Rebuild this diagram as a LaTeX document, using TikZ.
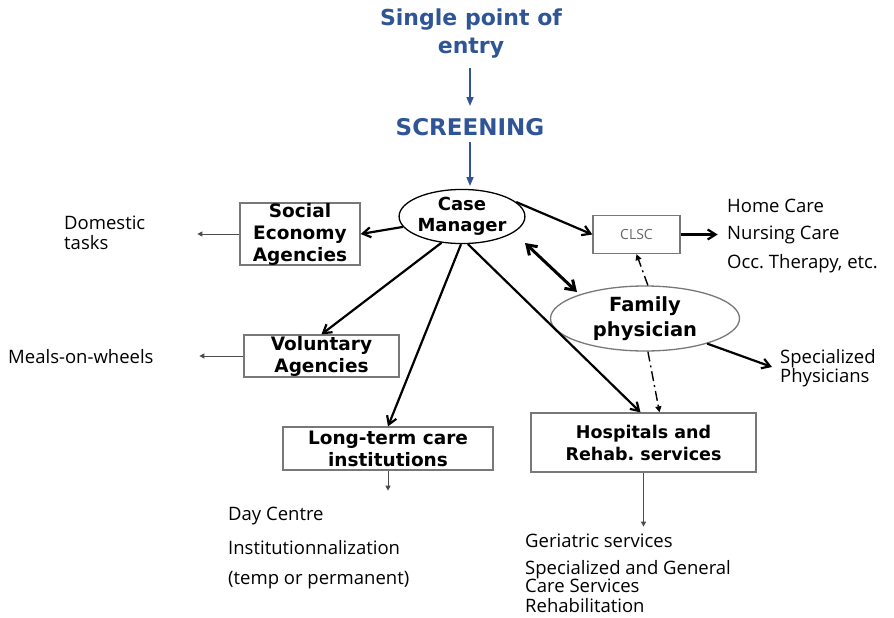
\documentclass[tikz,border=0pt]{standalone}
\usepackage{fontspec}
\setmainfont{DejaVu Sans}
\newfontfamily\regfont{Open Sans}
\usetikzlibrary{shapes.geometric,arrows.meta}
\definecolor{titleblue}{RGB}{47,85,151}
\definecolor{boxgray}{RGB}{120,120,120}
\frenchspacing
\begin{document}
\begin{tikzpicture}[x=1pt,y=-1pt,
  boxnode/.style={draw=boxgray, line width=1.3pt, align=center, inner sep=0pt,
     font=\bfseries\fontsize{18.5}{22}\selectfont},
  ellnode/.style={ellipse, draw, line width=1.3pt, align=center, inner sep=0pt,
     font=\bfseries\fontsize{18}{21}\selectfont},
  titletext/.style={text=titleblue, align=center, font=\bfseries\fontsize{22}{28}\selectfont},
  regtext/.style={anchor=west, align=left, inner sep=0pt, font=\regfont\fontsize{18.5}{19}\selectfont},
  bluearrow/.style={draw=titleblue, line width=1.6pt, -{Triangle[length=9pt,width=7pt]}},
  thickarrow/.style={draw=black, line width=2.2pt, -{Straight Barb[length=8pt,width=10pt]}},
  thinarrow/.style={draw=black!70, line width=1pt, -{Triangle[length=5pt,width=5pt]}},
  dasharrow/.style={draw=black, line width=1.4pt, dash pattern=on 10pt off 4pt on 2pt off 4pt, -{Triangle[length=6pt,width=6pt]}}
]
\useasboundingbox (0,0) rectangle (894,618);

% title
\node[titletext] (spe) at (471,34) {Single point of\\entry};
\node[titletext, font=\bfseries\fontsize{23}{26}\selectfont] (scr) at (470,127) {SCREENING};
\coordinate (a1) at (470,68);
\coordinate (a2) at (470,106);
\coordinate (b1) at (470,142);
\coordinate (b2) at (470,186);
\draw[bluearrow] (a1) -- (a2);
\draw[bluearrow] (b1) -- (b2);

% nodes
\node[ellnode, minimum width=124pt, minimum height=53pt] (cm) at (462,216.5) {Case\\Manager};
\node[boxnode, minimum width=120pt, minimum height=62pt] (soc) at (300,234) {Social\\Economy\\Agencies};
\node[boxnode, minimum width=87pt, minimum height=38pt, font=\regfont\fontsize{14}{15}\selectfont, text=black!60] (clsc) at (636.5,234.5) {CLSC};
\node[ellnode, draw=boxgray, minimum width=189pt, minimum height=65pt, font=\bfseries\fontsize{19.5}{25}\selectfont] (fp) at (645,318.5) {Family\\physician};
\node[boxnode, minimum width=155pt, minimum height=42pt] (vol) at (321.5,356) {Voluntary\\Agencies};
\node[boxnode, minimum width=210pt, minimum height=43pt] (ltc) at (388,448.5) {Long-term care\\institutions};
\node[boxnode, minimum width=225pt, minimum height=59pt, font=\bfseries\fontsize{17.5}{22}\selectfont] (hos) at (643.5,442.5) {Hospitals and\\Rehab. services};

% texts
\node[regtext] (dom) at (64,233) {Domestic\\[1pt]tasks};
\node[regtext] (meals) at (8,357) {Meals-on-wheels};
\node[regtext] (home) at (727,206) {Home Care};
\node[regtext] (nurs) at (727,235) {Nursing Care};
\node[regtext] (occ) at (727,264) {Occ. Therapy, etc.};
\node[regtext] (spec) at (780,368) {Specialized\\[0pt]Physicians};
\node[regtext] (day) at (228,516) {Day Centre};
\node[regtext] (inst) at (228,548) {Institutionnalization};
\node[regtext] (temp) at (228,580) {(temp or permanent)};
\node[regtext] (ger) at (525,541) {Geriatric services};
\node[regtext] (sag) at (525,577) {Specialized and General\\[-1pt]Care Services};
\node[regtext] (reh) at (525,606) {Rehabilitation};

% connectors from case manager
\coordinate (dA) at (525,243);
\coordinate (dB) at (577,292);
\coordinate (sp) at (772,367);
\draw[thickarrow] (cm.190) -- (soc.east);
\draw[thickarrow] (cm.232) -- (vol.north);
\draw[thickarrow] (cm.268) -- (ltc.north);
\draw[thickarrow] (cm.282) -- ([xshift=-3pt]hos.north);
\draw[thickarrow] (cm.15) -- (clsc.west);
\draw[thickarrow, line width=3pt, {Straight Barb[length=9pt,width=12pt]}-{Straight Barb[length=9pt,width=12pt]}] (dA) -- (dB);
\draw[thickarrow] (clsc.east) -- ([xshift=37pt]clsc.east);
\draw[thickarrow] (fp.-22) -- (sp);

% dash-dot links
\draw[dasharrow] (fp.85) -- (clsc.south);
\draw[dasharrow] (fp.-85) -- ([xshift=16pt]hos.north);

% thin arrows
\draw[thinarrow] (soc.west) -- ([xshift=-42pt]soc.west);
\draw[thinarrow] (vol.west) -- ([xshift=-44pt]vol.west);
\draw[thinarrow] (ltc.south) -- ([yshift=-20pt]ltc.south);
\draw[thinarrow] (hos.south) -- ([yshift=-54pt]hos.south);
\end{tikzpicture}
\end{document}
